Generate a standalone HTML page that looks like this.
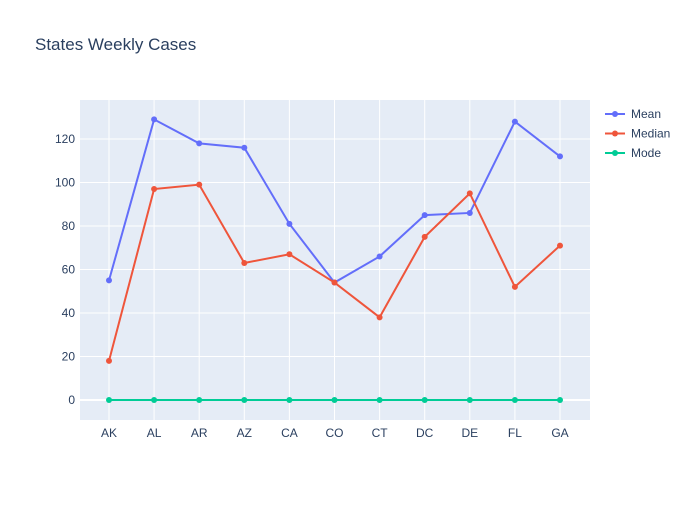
<!DOCTYPE html>
<html><head><meta charset="utf-8"><style>
body{margin:0;background:#fff;font-family:"Liberation Sans",sans-serif}
svg text{font-family:"Liberation Sans",sans-serif}
</style></head><body>
<svg id="chart" width="700" height="500">
<rect width="700" height="500" fill="#fff"/>
<text x="35" y="50" font-size="17" fill="#2a3f5f">States Weekly Cases</text>
<rect x="80" y="100" width="510" height="320" fill="#e5ecf6"/>
<g id="grid"></g><g id="series"></g><g id="legend"></g>
</svg>
<script>
const categories=["AK","AL","AR","AZ","CA","CO","CT","DC","DE","FL","GA"];
const meanValues=[55,129,118,116,81,54,66,85,86,128,112];
const medianValues=[18,97,99,63,67,54,38,75,95,52,71];
const modeValues=[0,0,0,0,0,0,0,0,0,0,0];
const yTicks=[0,20,40,60,80,100,120];
const seriesNames=["Mean","Median","Mode"];
const colors=["#636efa","#ef553b","#00cc96"];
const NS="http://www.w3.org/2000/svg";
const x0=109,dx=45.1;
function xs(i){return x0+i*dx;}
function ys(v){return 400-v*2.175;}
function mk(t,a,p){const e=document.createElementNS(NS,t);for(const k in a)e.setAttribute(k,a[k]);p.appendChild(e);return e;}
const grid=document.getElementById('grid');
categories.forEach((c,i)=>{
 const l=mk('line',{x1:xs(i),x2:xs(i),y1:100,y2:420,stroke:'#fff','stroke-width':1},grid);
 
 
 const t=mk('text',{x:xs(i),y:437,'text-anchor':'middle','font-size':12,fill:'#2a3f5f'},grid);t.textContent=c;
 
 
});
yTicks.forEach(v=>{
 const l=mk('line',{x1:80,x2:590,y1:ys(v),y2:ys(v),stroke:'#fff','stroke-width':v===0?2:1},grid);
 
 
 const t=mk('text',{x:75,y:ys(v)+4,'text-anchor':'end','font-size':12,fill:'#2a3f5f'},grid);t.textContent=v;
 
 
});
const ser=document.getElementById('series');
[meanValues,medianValues,modeValues].forEach((vals,s)=>{
 const p=mk('polyline',{points:vals.map((v,i)=>xs(i)+','+ys(v)).join(' '),fill:'none',stroke:colors[s],'stroke-width':2},ser);
 
 
 vals.forEach((v,i)=>{
  const c=mk('circle',{cx:xs(i),cy:ys(v),r:3,fill:colors[s]},ser);
  
  
 });
});
const lg=document.getElementById('legend');
seriesNames.forEach((n,s)=>{
 const y=114+s*19.5;
 const g=mk('g',{},lg);
 
 
 mk('line',{x1:605,x2:625,y1:y,y2:y,stroke:colors[s],'stroke-width':2},g);
 mk('circle',{cx:615,cy:y,r:3,fill:colors[s]},g);
 const t=mk('text',{x:631,y:y+4,'font-size':12,fill:'#2a3f5f'},g);t.textContent=n;
});
</script>
</body></html>
